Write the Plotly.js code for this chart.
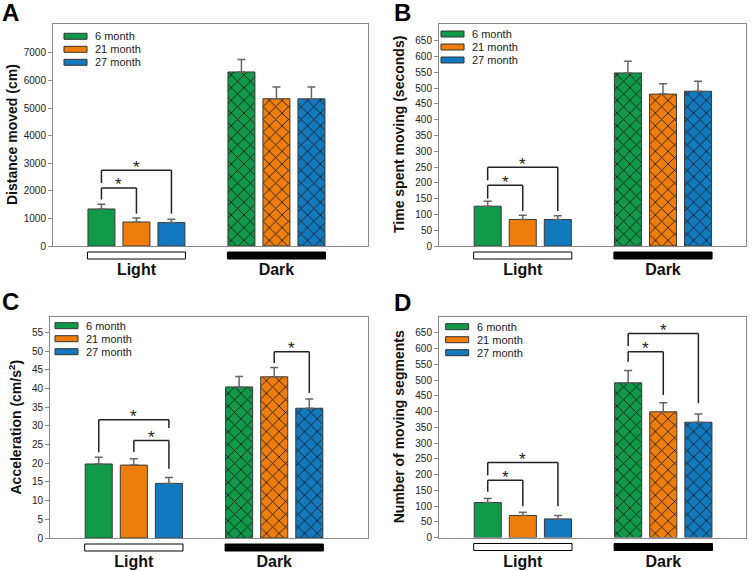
<!DOCTYPE html>
<html>
<head>
<meta charset="utf-8">
<script src="https://cdn.plot.ly/plotly-3.0.1.min.js"></script>
<style>
html, body { margin: 0; padding: 0; background: #fff; }
#chart { width: 756px; height: 571px; }
</style>
</head>
<body>
<div id="chart"></div>
<script>
var phases = ['Light', 'Dark'];
var ages = ['6 month', '21 month', '27 month'];
var ageColors = ['#11994a', '#ee7d0c', '#1379bf'];

// one row per age group: [Light, Dark]
var distanceMean = [[1342, 6311], [870, 5340], [849, 5335]];
var distanceSem = [[170, 450], [146, 430], [119, 432]];
var timeMean = [[126, 548], [84, 481], [84, 490]];
var timeSem = [[16, 37], [13, 33], [12, 32]];
var accelMean = [[19.8, 40.4], [19.5, 43.1], [14.6, 34.7]];
var accelSem = [[1.8, 2.8], [1.7, 2.5], [1.6, 2.5]];
var segmentMean = [[111, 491], [70, 399], [59, 366]];
var segmentSem = [[13, 39], [10.5, 29], [11, 26]];

// significance brackets: [phase, fromAge, toAge, top, leftEnd, rightEnd]
var distanceSig = [[0, 0, 1, 2104, 1683, 1175], [0, 0, 2, 2746, 2285, 1175]];
var timeSig = [[0, 0, 1, 192, 150, 111], [0, 0, 2, 249, 208, 111]];
var accelSig = [[0, 0, 2, 31.6, 22.9, 29.4], [0, 1, 2, 26.1, 23.0, 18.5], [1, 1, 2, 49.8, 46.8, 38.8]];
var segmentSig = [[0, 0, 1, 182, 145, 99], [0, 0, 2, 238, 198, 99], [1, 0, 1, 590, 558, 452], [1, 0, 2, 648, 608, 426]];

var distanceTicks = [0, 1000, 2000, 3000, 4000, 5000, 6000, 7000];
var timeTicks = [0, 50, 100, 150, 200, 250, 300, 350, 400, 450, 500, 550, 600, 650];
var accelTicks = [0, 5, 10, 15, 20, 25, 30, 35, 40, 45, 50, 55];
var segmentTicks = [0, 50, 100, 150, 200, 250, 300, 350, 400, 450, 500, 550, 600, 650];

var W = 756, H = 571;
var font = 'Liberation Sans, Arial, sans-serif';

var panels = [
    {letter: 'A', mean: distanceMean, sem: distanceSem, sig: distanceSig, ticks: distanceTicks,
     title: 'Distance moved (cm)', box: [53, 24, 368, 246], yMax: 8050, xRange: [-0.596, 1.654],
     legendPos: [11, 12.3], titleX: 12, letterPos: [10, 13]},
    {letter: 'B', mean: timeMean, sem: timeSem, sig: timeSig, ticks: timeTicks,
     title: 'Time spent moving (seconds)', box: [439, 24, 746, 246], yMax: 703, xRange: [-0.597, 1.592],
     legendPos: [2, 10], titleX: 399, letterPos: [402, 13]},
    {letter: 'C', mean: accelMean, sem: accelSem, sig: accelSig, ticks: accelTicks,
     title: 'Acceleration (cm/s<sup>2</sup>)', box: [50, 317, 368, 538], yMax: 59.1, xRange: [-0.597, 1.668],
     legendPos: [5, 8.7], titleX: 15, letterPos: [10, 301]},
    {letter: 'D', mean: segmentMean, sem: segmentSem, sig: segmentSig, ticks: segmentTicks,
     title: 'Number of moving segments', box: [439, 317, 746, 537.5], yMax: 700, xRange: [-0.597, 1.589],
     legendPos: [6.7, 9.7], titleX: 399, letterPos: [402, 302]}
];

var traces = [];
var shapes = [];
var annotations = [];
var layout = {
    width: W,
    height: H,
    margin: {l: 0, r: 0, t: 0, b: 0},
    paper_bgcolor: '#fff',
    plot_bgcolor: '#fff',
    barmode: 'group',
    bargap: 0.25,
    bargroupgap: 0.229,
    showlegend: false,
    font: {family: font, color: '#222'}
};

function barX(phase, age) {
    return phase + (age - 1) * 0.25;
}

panels.forEach(function (p, i) {
    var n = i + 1;
    var xs = n === 1 ? 'x' : 'x' + n;
    var ys = n === 1 ? 'y' : 'y' + n;
    var left = p.box[0], top = p.box[1], right = p.box[2], bottom = p.box[3];
    var boxW = right - left, boxH = bottom - top;

    layout[n === 1 ? 'xaxis' : 'xaxis' + n] = {
        domain: [left / W, right / W],
        anchor: ys,
        range: p.xRange,
        tickvals: [0, 1],
        ticktext: phases,
        ticks: '',
        ticklabelstandoff: 9,
        tickfont: {family: font, size: 16, weight: 'bold', color: '#111'},
        showline: true, mirror: true, linecolor: '#8a8a8a', linewidth: 1,
        showgrid: false, zeroline: false, fixedrange: true
    };
    layout[n === 1 ? 'yaxis' : 'yaxis' + n] = {
        domain: [1 - bottom / H, 1 - top / H],
        anchor: xs,
        range: [0, p.yMax],
        tickvals: p.ticks,
        ticks: 'outside', ticklen: 4, tickcolor: '#8a8a8a',
        tickfont: {family: font, size: 10, color: '#222'},
        showline: true, mirror: true, linecolor: '#8a8a8a', linewidth: 1,
        showgrid: false, zeroline: false, fixedrange: true
    };

    for (var a = 0; a < ages.length; a++) {
        traces.push({
            type: 'bar',
            x: [0, 1],
            y: p.mean[a],
            name: ages[a],
            xaxis: xs,
            yaxis: ys,
            marker: {
                color: ageColors[a],
                line: {color: '#3a3a3a', width: 1},
                pattern: {shape: ['', 'x'], fgcolor: '#1a1a1a', bgcolor: ageColors[a],
                          fillmode: 'replace', size: 9, solidity: 0.18}
            },
            error_y: {
                type: 'data', symmetric: false, array: p.sem[a], arrayminus: [0, 0],
                color: '#666', thickness: 1.5, width: 4
            },
            hoverinfo: 'skip'
        });

        // legend swatch and label
        var cy = p.legendPos[1] + a * 13;
        shapes.push({
            type: 'rect', xref: xs + ' domain', yref: ys + ' domain',
            x0: p.legendPos[0] / boxW, x1: (p.legendPos[0] + 23) / boxW,
            y0: 1 - (cy - 3) / boxH, y1: 1 - (cy + 3) / boxH,
            fillcolor: ageColors[a], line: {color: '#333', width: 1}
        });
        annotations.push({
            xref: xs + ' domain', yref: ys + ' domain',
            x: (p.legendPos[0] + 29) / boxW, y: 1 - cy / boxH,
            xanchor: 'left', yanchor: 'middle', showarrow: false,
            text: ages[a], font: {family: font, size: 11, color: '#222'}
        });
    }

    // phase bars under the axis
    for (var ph = 0; ph < phases.length; ph++) {
        shapes.push({
            type: 'rect', xref: xs, yref: ys + ' domain',
            x0: ph - 0.35, x1: ph + 0.35,
            y0: -6 / boxH, y1: -13 / boxH,
            fillcolor: ph === 0 ? '#fff' : '#000',
            line: {color: '#000', width: 1}
        });
    }

    // significance brackets
    p.sig.forEach(function (s) {
        var xl = barX(s[0], s[1]), xr = barX(s[0], s[2]);
        var line = {color: '#222', width: 1.5};
        shapes.push({type: 'line', xref: xs, yref: ys, x0: xl, x1: xl, y0: s[4], y1: s[3], line: line});
        shapes.push({type: 'line', xref: xs, yref: ys, x0: xl, x1: xr, y0: s[3], y1: s[3], line: line});
        shapes.push({type: 'line', xref: xs, yref: ys, x0: xr, x1: xr, y0: s[3], y1: s[5], line: line});
        annotations.push({
            xref: xs, yref: ys, x: (xl + xr) / 2, y: s[3],
            xanchor: 'center', yanchor: 'middle', yshift: 3, showarrow: false,
            text: '*', font: {family: font, size: 17, color: '#222'}
        });
    });

    // axis title
    annotations.push({
        xref: 'paper', yref: 'paper',
        x: p.titleX / W, y: 1 - (top + bottom) / 2 / H,
        xanchor: 'center', yanchor: 'middle', textangle: -90, showarrow: false,
        text: p.title, font: {family: font, size: 14, weight: 'bold', color: '#111'}
    });

    // panel letter
    annotations.push({
        xref: 'paper', yref: 'paper',
        x: p.letterPos[0] / W, y: 1 - p.letterPos[1] / H,
        xanchor: 'center', yanchor: 'middle', showarrow: false,
        text: p.letter, font: {family: font, size: 24, weight: 'bold', color: '#000'}
    });
});

layout.shapes = shapes;
layout.annotations = annotations;

Plotly.newPlot('chart', traces, layout, {displayModeBar: false, staticPlot: true});
</script>
</body>
</html>
